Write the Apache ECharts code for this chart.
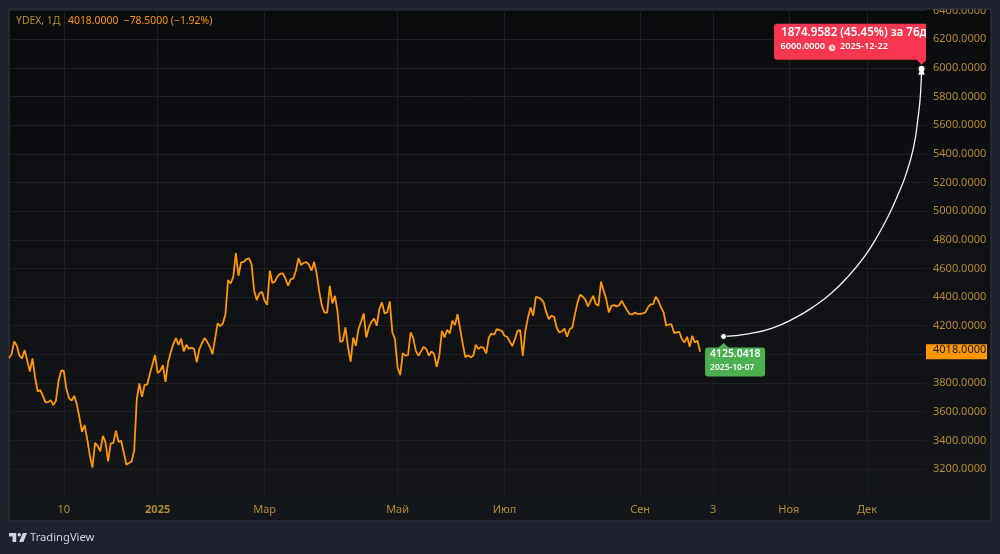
<!DOCTYPE html>
<html>
<head>
<meta charset="utf-8">
<script src="https://cdn.jsdelivr.net/npm/echarts@6/dist/echarts.min.js"></script>
<style>html,body{margin:0;padding:0;background:#1e222d}#chart{width:1000px;height:554px}</style>
</head>
<body>
<div id="chart"></div>
<script>
// YDEX daily closes, one entry per trading session
const closes = [
3974,4002,4091,4060,3991,3972,4030,3956,3881,3972,3839,3742,3751,3711,3665,3667,3681,3646,3677,3816,
3886,3886,3758,3695,3677,3711,3653,3560,3460,3507,3409,3293,3211,3383,3362,3323,3432,3386,3253,3379,
3381,3467,3390,3397,3316,3230,3242,3253,3328,3688,3797,3704,3788,3790,3863,3932,3995,3870,3886,3925,
3809,3944,4014,4072,4114,4067,4111,4021,4067,4037,4049,4037,3944,4037,4079,4114,4088,4053,4002,4107,
4216,4198,4216,4281,4519,4495,4542,4707,4549,
4642,4646,4665,4670,4630,4444,4379,4425,4437,4374,4346,4584,4498,4509,4546,4563,4565,4530,4479,4523,
4530,4584,4672,4623,4639,4644,4626,4584,4646,4560,4432,4339,4291,4291,4479,4356,4409,4293,4088,4095,
4188,4049,3949,4118,4060,4177,4228,4286,4118,4188,4228,4251,4200,4316,4363,4286,4293,4370,4153,4107,
3909,3856,4009,3991,3995,4153,4114,4025,3991,4021,4053,4037,3991,4021,4002,3914,3991,4165,4118,4172,
4146,4235,4205,4281,4177,4072,3979,3995,3979,3991,4067,4037,
4053,4044,4007,4118,4146,4137,4176,4169,4165,4130,4123,4090,4058,4107,4165,4169,3990,4165,4258,4328,
4270,4402,4397,4386,4363,4293,4246,4270,4263,4188,4153,4160,4181,4123,4176,4188,4281,4363,4416,4404,
4381,4335,4374,4409,4351,4339,4507,4444,4386,4293,4339,4344,4335,4344,4374,4339,4309,4281,4279,4293,
4283,4283,4286,4293,4328,4349,4351,4402,4374,4328,4293,4200,4207,4211,4151,4153,4158,4107,4083,4123,
4053,4130,4083,4095,4018
];

// Forecast arc from the drawing tool, session index against price
const arcBars = [274.0,283.5,292.4,301.4,309.0,315.5,321.8,328.2,333.3,337.2,341.4,343.6,346.8,348.6,349.5,349.9];
const arcValues = [4125.0418,4144,4182,4255,4339,4430,4545,4688,4835,4967,5138,5239,5442,5658,5815,6000];

// Time scale marks
const tickBars = [21,57,98,149,190,242,270,299,329];
const tickLabels = ['10','2025','Мар','Май','Июл','Сен','3','Ноя','Дек'];

const lastPrice = 4018;
const symbolText = 'YDEX, 1Д';
const quoteText = '4018.0000  −78.5000 (−1.92%)';
const startPriceText = '4125.0418';
const startDateText = '2025-10-07';
const endHeadline = '1874.9582 (45.45%) за 76д';
const endPriceText = '6000.0000';
const endDateText = '2025-12-22';

const FONT = '"Noto Sans", sans-serif';
const GOLD = '#b48a2e';
const ORANGE = '#ff9800';
const BAR_STEP = 2.608;
const GRID_W = 917;

const chart = echarts.init(document.getElementById('chart'), null, {renderer: 'canvas'});

function startCallout(params, api) {
  const p = api.coord([arcBars[0], arcValues[0]]);
  const x = p[0], y = p[1];
  return {type: 'group', children: [
    {type: 'polygon', shape: {points: [[x - 6, y + 12], [x, y + 6.5], [x + 6, y + 12]]}, style: {fill: '#4caf50'}},
    {type: 'rect', shape: {x: x - 18.5, y: y + 11, width: 60, height: 29, r: 3}, style: {fill: '#4caf50'}},
    {type: 'text', style: {x: x - 13.5, y: y + 12.5, text: startPriceText, fill: '#fff', font: '600 10.4px "Noto Sans", sans-serif'}},
    {type: 'text', style: {x: x - 13.5, y: y + 26.5, text: startDateText, fill: '#fff', font: '600 8.5px "Noto Sans", sans-serif'}},
    {type: 'circle', shape: {cx: x, cy: y, r: 3}, style: {fill: '#fff', stroke: '#0d0f12', lineWidth: 1}}
  ]};
}

function endCallout(params, api) {
  const p = api.coord([arcBars[arcBars.length - 1], arcValues[arcValues.length - 1]]);
  const x = p[0], y = p[1];
  const top = y - 44, left = x - 147.5;
  const cx = left + 58, cy = top + 25;
  return {type: 'group', children: [
    {type: 'rect', shape: {x: left, y: top, width: 190, height: 36, r: 3}, style: {fill: '#f7374f'}},
    {type: 'polygon', shape: {points: [[x - 6, top + 35], [x, top + 41], [x + 6, top + 35]]}, style: {fill: '#f7374f'}},
    {type: 'text', style: {x: left + 7, y: top + 3, text: endHeadline, fill: '#fff', font: '600 11.6px "Noto Sans", sans-serif'}},
    {type: 'text', style: {x: left + 6.5, y: top + 18, text: endPriceText, fill: '#fff', font: '600 9.2px "Noto Sans", sans-serif'}},
    {type: 'circle', shape: {cx: cx, cy: cy - 1, r: 3.4}, style: {fill: '#fbd0d6'}},
    {type: 'polyline', shape: {points: [[cx, cy - 3.2], [cx, cy - 1], [cx + 1.8, cy]]}, style: {fill: 'none', stroke: '#f7374f', lineWidth: 0.8}},
    {type: 'text', style: {x: left + 66, y: top + 18, text: endDateText, fill: '#fff', font: '600 9.2px "Noto Sans", sans-serif'}},
    {type: 'circle', shape: {cx: x, cy: y + 1, r: 3}, style: {fill: '#fff'}},
    {type: 'polygon', shape: {points: [[x - 1.5, y + 2], [x + 1.5, y + 2], [x + 3.2, y + 7], [x - 3.2, y + 7]]}, style: {fill: '#fff'}}
  ]};
}

function priceTag(params, api) {
  const y = api.coord([0, lastPrice])[1];
  return {type: 'group', children: [
    {type: 'rect', shape: {x: 926, y: y - 7.5, width: 61, height: 15}, style: {fill: ORANGE}},
    {type: 'text', style: {x: 933, y: y - 7, text: lastPrice.toFixed(4), fill: '#131722', font: '11px "Noto Sans", sans-serif'}}
  ]};
}

chart.setOption({
  animation: false,
  backgroundColor: '#1e222d',
  grid: {left: 9, top: 10.5, width: GRID_W, height: 487.2, containLabel: false},
  xAxis: {
    type: 'value', min: 0, max: GRID_W / BAR_STEP,
    axisLine: {show: false},
    axisTick: {show: false, customValues: tickBars},
    splitLine: {show: true, customValues: tickBars, lineStyle: {color: '#1d2126', width: 1}},
    axisLabel: {
      customValues: tickBars, margin: 7, color: GOLD, fontFamily: FONT, fontSize: 11,
      formatter: v => {
        const t = tickLabels[tickBars.indexOf(v)];
        return t === '2025' ? '{y|2025}' : t;
      },
      rich: {y: {fontWeight: 'bold', fontSize: 11, color: GOLD, fontFamily: FONT}}
    }
  },
  yAxis: {
    type: 'value', position: 'right', min: 3000, max: 6400, interval: 200,
    axisLine: {show: false}, axisTick: {show: false},
    splitLine: {show: true, showMinLine: false, lineStyle: {color: '#1d2126', width: 1}},
    axisLabel: {
      showMinLabel: false, margin: 7, color: GOLD, fontFamily: FONT, fontSize: 11,
      formatter: v => v.toFixed(4)
    }
  },
  graphic: [
    {type: 'rect', z: -10, shape: {x: 9, y: 9, width: 982, height: 512}, style: {
      stroke: '#2a2e39', lineWidth: 1.5,
      fill: new echarts.graphic.LinearGradient(0, 0, 0, 1, [{offset: 0, color: '#0a0b0d'}, {offset: 1, color: '#14171b'}])
    }},
    {type: 'rect', z: 100, shape: {x: 0, y: 0, width: 1000, height: 8.5}, style: {fill: '#1e222d'}},
    {type: 'rect', z: 100, shape: {x: 8, y: 8.5, width: 984, height: 1}, style: {fill: '#2a2e39'}},
    {type: 'text', z: 50, style: {x: 16, y: 16.5, text: symbolText, fill: GOLD, font: '10.4px "Noto Sans", sans-serif'}},
    {type: 'text', z: 50, style: {x: 68, y: 16.5, text: quoteText, fill: ORANGE, font: '10.4px "Noto Sans", sans-serif'}},
    // TradingView mark: T, dot and slanted V
    {type: 'polygon', z: 50, shape: {points: [[9,533],[16.2,533],[16.2,542],[12.6,542],[12.6,536.6],[9,536.6]]}, style: {fill: '#d1d4dc'}},
    {type: 'circle', z: 50, shape: {cx: 19.2, cy: 534.8, r: 1.8}, style: {fill: '#d1d4dc'}},
    {type: 'polygon', z: 50, shape: {points: [[23.4,542],[19.2,542],[22.8,533],[27,533]]}, style: {fill: '#d1d4dc'}},
    {type: 'text', z: 50, style: {x: 30, y: 532.5, text: 'TradingView', fill: '#d1d4dc', font: '11.2px "Noto Sans", sans-serif'}}
  ],
  series: [
    {
      type: 'line', data: closes.map((v, i) => [i, v]), showSymbol: false,
      lineStyle: {color: ORANGE, width: 1.8}, z: 3, silent: true
    },
    {
      type: 'line', data: arcBars.map((b, i) => [b, arcValues[i]]), showSymbol: false, smooth: 0.5,
      lineStyle: {color: '#f0f3fa', width: 1.3}, z: 4, silent: true
    },
    {type: 'custom', coordinateSystem: 'cartesian2d', clip: true, z: 6, silent: true,
     data: [[arcBars[0], arcValues[0]]], renderItem: startCallout},
    {type: 'custom', coordinateSystem: 'cartesian2d', clip: true, z: 7, silent: true,
     data: [[arcBars[arcBars.length - 1], arcValues[arcValues.length - 1]]], renderItem: endCallout},
    {type: 'custom', coordinateSystem: 'cartesian2d', clip: false, z: 8, silent: true,
     data: [[0, lastPrice]], renderItem: priceTag}
  ]
});
</script>
</body>
</html>
